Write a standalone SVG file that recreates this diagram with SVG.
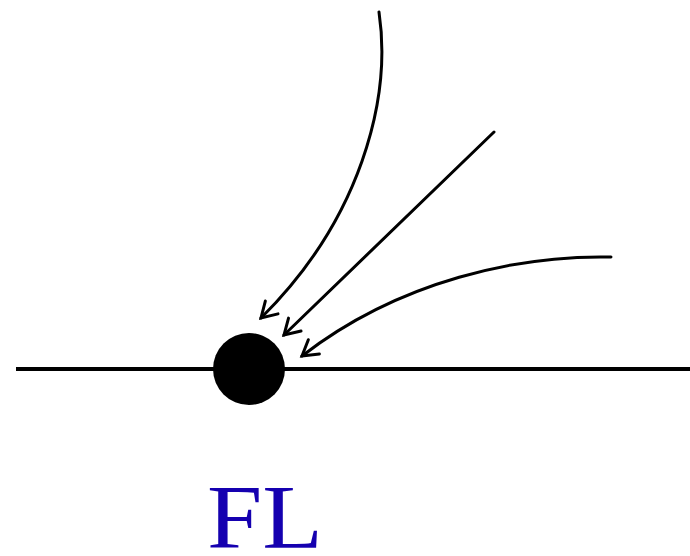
<svg xmlns="http://www.w3.org/2000/svg" width="690" height="556" viewBox="0 0 690 556">
<defs>
<style>
.arr{fill:none;stroke:#000;stroke-width:3;stroke-linecap:round;marker-end:url(#ah)}
.lbl{font-family:"Liberation Serif","DejaVu Serif",serif;font-size:92px;fill:#1500B0}
</style>
<marker id="ah" markerUnits="userSpaceOnUse" markerWidth="30" markerHeight="30" refX="0" refY="0" viewBox="-20 -15 30 30" orient="auto">
<path d="M-15,-9 L0,0 L-15,9" fill="none" stroke="#000" stroke-width="3" stroke-linecap="round" stroke-linejoin="miter"/>
</marker>
</defs>
<g id="axis"><line x1="16" y1="369" x2="690" y2="369" stroke="#000" stroke-width="4"/></g>
<g id="node-FL">
<circle cx="249" cy="369" r="36" fill="#000"/>
<text class="lbl" x="207" y="548" textLength="116" lengthAdjust="spacingAndGlyphs">FL</text>
</g>
<g id="connectors">
<path class="arr" d="M379,12 C392,100 360,220 261,318"/>
<path class="arr" d="M494,132 L284,335"/>
<path class="arr" d="M611,257 C520,255 400,280 302,356"/>
</g>
</svg>
